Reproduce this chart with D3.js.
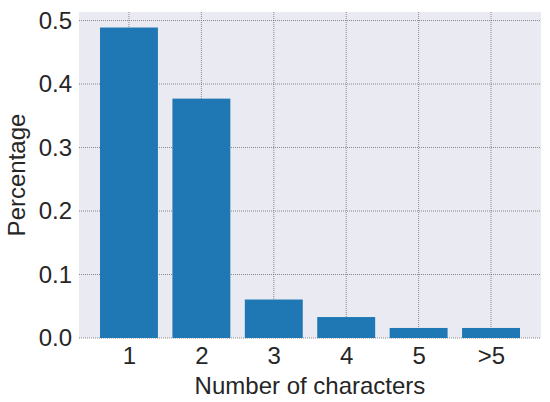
<!DOCTYPE html>
<html>
<head>
<meta charset="utf-8">
<script src="https://cdn.jsdelivr.net/npm/d3@7"></script>
<style>
  body { margin: 0; background: #fff; }
  svg text { font-family: "Liberation Sans", Arial, sans-serif; fill: #262626; }
</style>
</head>
<body>
<svg id="chart" width="550" height="402"></svg>
<script>
const categories = ["1", "2", "3", "4", "5", ">5"]
const percentages = [0.489, 0.377, 0.0606, 0.033, 0.0158, 0.0158]
const yTicks = [0.0, 0.1, 0.2, 0.3, 0.4, 0.5]

const w = 550, h = 402
const m = {t: 12, b: 64, l: 79, r: 9}
const fontSize = 24

const svg = d3.select("#chart")

// positions as indices, like matplotlib does it
const idx = categories.map((d, i) => i)
const xScale = d3.scaleLinear()
    .domain([-0.69, categories.length - 1 + 0.69])
    .range([m.l, w - m.r])

const yScale = d3.scaleLinear()
    .domain([0, d3.max(percentages) * 1.05])
    .range([h - m.b, m.t])

svg.append("rect")
    .attr("x", m.l)
    .attr("y", m.t)
    .attr("width", w - m.l - m.r)
    .attr("height", h - m.t - m.b)
    .attr("fill", "#eaeaf2")

// grid
const grid = svg.append("g")
grid.selectAll(".hgrid")
    .data(yTicks)
    .join("line")
    .attr("x1", m.l).attr("x2", w - m.r)
    .attr("y1", d => yScale(d)).attr("y2", d => yScale(d))
    .attr("stroke", "#707070")
    .attr("stroke-width", 0.8)
    .attr("stroke-dasharray", "1,1")
grid.selectAll(".vgrid")
    .data(idx)
    .join("line")
    .attr("y1", m.t).attr("y2", h - m.b)
    .attr("x1", d => xScale(d)).attr("x2", d => xScale(d))
    .attr("stroke", "#707070")
    .attr("stroke-width", 0.8)
    .attr("stroke-dasharray", "1,1")

const bw = xScale(0.8) - xScale(0)
svg.selectAll(".bar")
    .data(percentages)
    .join("rect")
    .attr("x", (d, i) => xScale(i) - bw / 2)
    .attr("y", d => yScale(d))
    .attr("width", bw)
    .attr("height", d => yScale(0) - yScale(d))
    .attr("fill", "#1f77b4")

// axes (no lines, only labels)
const xAxis = svg.append("g")
    .attr("transform", `translate(0, ${h - m.b})`)
    .call(d3.axisBottom(xScale).tickValues(idx).tickFormat(i => categories[i]).tickSize(0).tickPadding(9))
xAxis.select(".domain").remove()
xAxis.selectAll("text").attr("font-size", fontSize).attr("fill", "#262626")
    .attr("font-family", "Liberation Sans, Arial, sans-serif")

const yAxis = svg.append("g")
    .attr("transform", `translate(${m.l}, 0)`)
    .call(d3.axisLeft(yScale).tickValues(yTicks).tickFormat(d3.format(".1f")).tickSize(0).tickPadding(7))
yAxis.select(".domain").remove()
yAxis.selectAll("text").attr("font-size", fontSize).attr("fill", "#262626")
    .attr("font-family", "Liberation Sans, Arial, sans-serif")

svg.append("text")
    .attr("x", (m.l + w - m.r) / 2)
    .attr("y", 394)
    .attr("text-anchor", "middle")
    .attr("font-size", fontSize)
    .text("Number of characters")

svg.append("text")
    .attr("transform", `translate(25, ${(m.t + h - m.b) / 2}) rotate(-90)`)
    .attr("text-anchor", "middle")
    .attr("font-size", fontSize)
    .text("Percentage")
</script>
</body>
</html>
